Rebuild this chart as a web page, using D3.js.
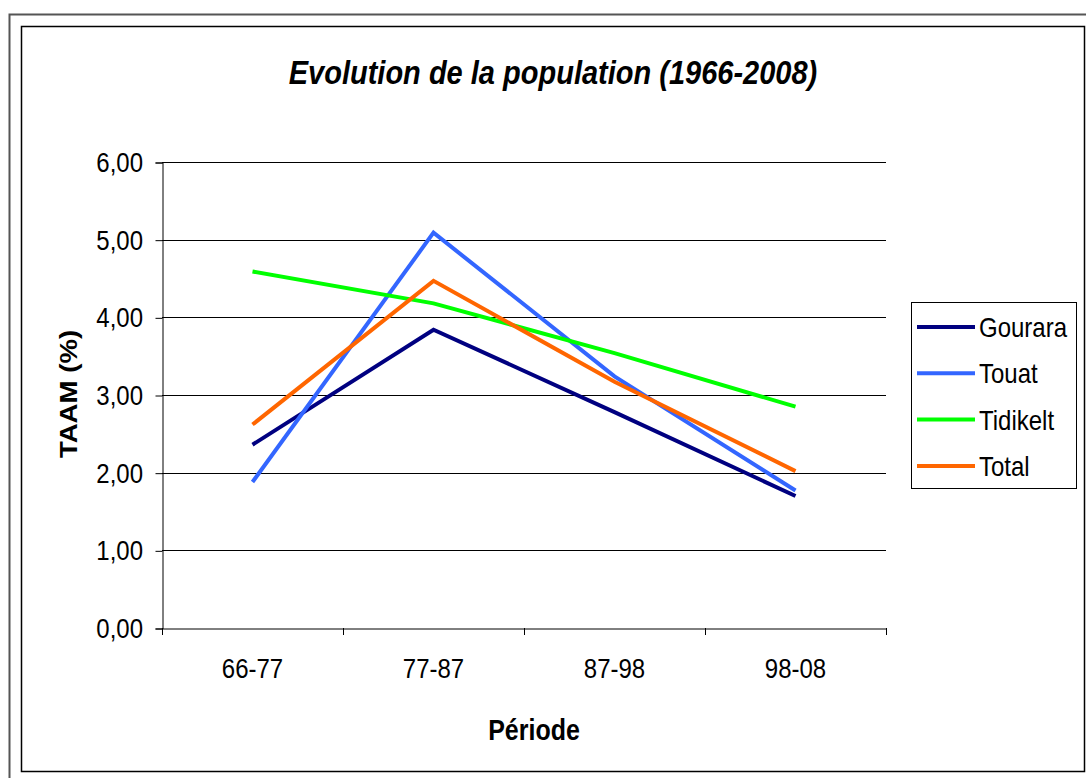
<!DOCTYPE html>
<html><head><meta charset="utf-8">
<script src="https://cdn.jsdelivr.net/npm/d3@7/dist/d3.min.js"></script>
<style>body{margin:0;background:#fff}svg{display:block}text{font-family:"Liberation Sans",Arial,sans-serif;fill:#000}</style>
</head><body><svg id="c" width="1086" height="778"></svg>
<script>
const categories = ["66-77","77-87","87-98","98-08"];
const gourara  = [2.36, 3.84, 2.78, 1.70];
const touat    = [1.88, 5.09, 3.24, 1.77];
const tidikelt = [4.59, 4.18, 3.54, 2.85];
const total    = [2.62, 4.47, 3.17, 2.02];
const seriesNames = ["Gourara","Touat","Tidikelt","Total"];
const seriesColors = ["#000080","#3366FF","#00FF00","#FF6600"];
const yTicks = [0,1,2,3,4,5,6];
const title = "Evolution de la population (1966-2008)";
const yTitle = "TAAM (%)";
const xTitle = "Période";

const series = [gourara, touat, tidikelt, total].map((v,i)=>({name:seriesNames[i], color:seriesColors[i], values:v}));

const svg = d3.select("#c");
const SY = 1.15;
// frames
svg.append("path").attr("d","M9.5,778 V14.5 H1086").attr("fill","none").attr("stroke","#555").attr("stroke-width",2);
svg.append("rect").attr("x",21.5).attr("y",26.5).attr("width",1063).attr("height",745).attr("fill","none").attr("stroke","#000").attr("stroke-width",1.5);

const L=162, R=886, T=162, B=628;
const x = d3.scaleBand().domain(categories).range([L,R]);
const y = d3.scaleLinear().domain([0,6]).range([B,T]);

// gridlines
svg.append("g").selectAll("line").data(yTicks.filter(d=>d>0)).join("line")
  .attr("x1",L).attr("x2",R).attr("y1",d=>Math.round(y(d))+0.5).attr("y2",d=>Math.round(y(d))+0.5)
  .attr("stroke","#000").attr("stroke-width",1);

// y axis
const fmt = d=>d3.format(".2f")(d).replace(".",",");
const ya = svg.append("g").attr("transform",`translate(${L+0.5},0.5)`)
  .call(d3.axisLeft(y).tickValues(yTicks).tickSize(7).tickPadding(0).tickFormat(""));
ya.selectAll("path,line").attr("stroke","#000");
svg.append("g").selectAll("text").data(yTicks).join("text")
  .attr("transform",d=>`translate(143,${y(d)}) scale(1,${SY})`)
  .attr("text-anchor","end").attr("dy","0.36em").attr("font-size",24).text(fmt);

// x axis
const xa = svg.append("g").attr("transform",`translate(0.5,${B+0.5})`)
  .call(d3.axisBottom(x).tickSize(0).tickFormat(""));
xa.select("path").attr("stroke","#000");
xa.selectAll(".tick").remove();
svg.append("g").selectAll("line").data(d3.range(categories.length+1)).join("line")
  .attr("x1",i=>Math.round(L+i*x.step())+0.5).attr("x2",i=>Math.round(L+i*x.step())+0.5)
  .attr("y1",B).attr("y2",B+7).attr("stroke","#000");
svg.append("g").selectAll("text").data(categories).join("text")
  .attr("transform",d=>`translate(${x(d)+x.bandwidth()/2},668) scale(1,${SY})`)
  .attr("text-anchor","middle").attr("dy","0.36em").attr("font-size",24).text(d=>d);

// titles
svg.append("text").attr("transform",`translate(553,72) scale(1,${SY})`).attr("text-anchor","middle").attr("dy","0.36em")
  .attr("font-size",29).attr("font-weight","bold").attr("font-style","italic").text(title);
svg.append("text").attr("transform",`translate(534,730) scale(1,${SY})`).attr("text-anchor","middle").attr("dy","0.36em")
  .attr("font-size",25).attr("font-weight","bold").text(xTitle);
svg.append("text").attr("transform",`translate(68,394) rotate(-90) scale(${SY},1)`).attr("text-anchor","middle").attr("dy","0.36em")
  .attr("font-size",24).attr("font-weight","bold").text(yTitle);

// lines
const line = d3.line().x((d,i)=>x(categories[i])+x.bandwidth()/2).y(d=>y(d));
svg.append("g").selectAll("path").data(series).join("path")
  .attr("d",d=>line(d.values)).attr("fill","none").attr("stroke",d=>d.color).attr("stroke-width",4).attr("stroke-linejoin","miter");

// legend
const lg = svg.append("g");
lg.append("rect").attr("x",911.5).attr("y",302.5).attr("width",165).attr("height",186).attr("fill","#fff").attr("stroke","#000");
const items = lg.selectAll("g.it").data(series).join("g").attr("class","it")
  .attr("transform",(d,i)=>`translate(0,${327+i*46.3})`);
items.append("line").attr("x1",917).attr("x2",975).attr("stroke",d=>d.color).attr("stroke-width",4);
items.append("text").attr("transform",`translate(979,0) scale(1,${SY})`).attr("dy","0.36em").attr("font-size",24).text(d=>d.name);
</script></body></html>
